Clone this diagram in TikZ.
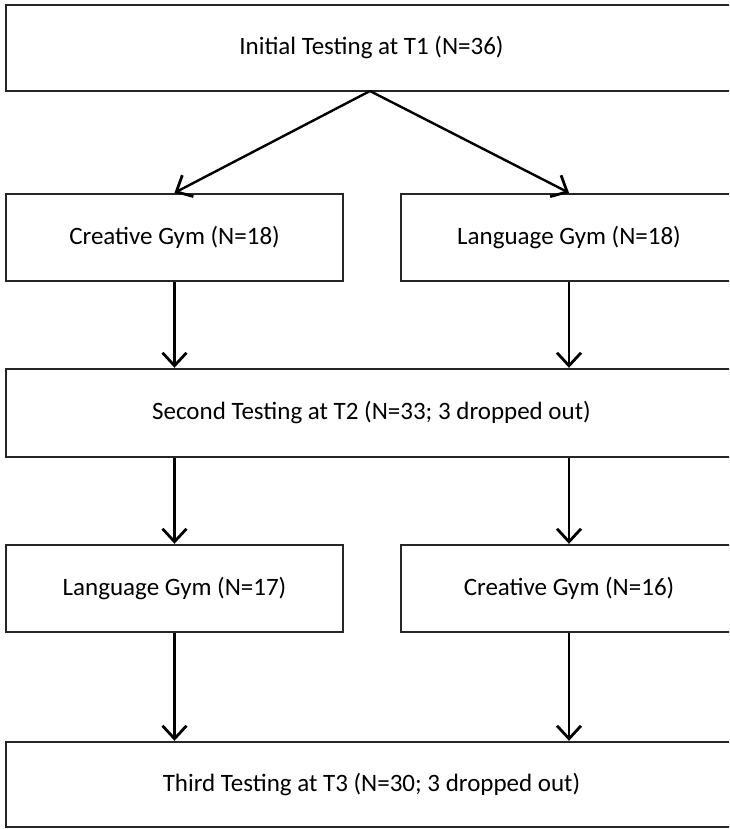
\documentclass[tikz,border=0pt]{standalone}
\usepackage{fontspec}
\setmainfont{Carlito}
\usetikzlibrary{arrows.meta}
\begin{document}
\begin{tikzpicture}[x=1pt,y=-1pt,
  box/.style={draw=black!85, line width=2.4pt, rectangle, inner sep=0pt, font=\fontsize{25}{29}\selectfont},
  arr/.style={draw=black, line width=2.4pt, -{Straight Barb[length=13pt,width=24pt,line width=2.8pt]}}]
\useasboundingbox (0,0) rectangle (729,829);
\clip (0,0) rectangle (729,829);
\node[box, minimum width=731pt, minimum height=86pt] (t1) at (371.5,48) {Initial Testing at T1 (N=36)};
\node[box, minimum width=337pt, minimum height=87pt] (cg1) at (174.5,237.5) {Creative Gym (N=18)};
\node[box, minimum width=336pt, minimum height=87pt] (lg1) at (569,237.5) {Language Gym (N=18)};
\node[box, minimum width=731pt, minimum height=88pt] (t2) at (371.5,413) {Second Testing at T2 (N=33; 3 dropped out)};
\node[box, minimum width=337pt, minimum height=87pt] (lg2) at (174.5,588.5) {Language Gym (N=17)};
\node[box, minimum width=336pt, minimum height=87pt] (cg2) at (569,588.5) {Creative Gym (N=16)};
\node[box, minimum width=731pt, minimum height=85pt] (t3) at (371.5,784.5) {Third Testing at T3 (N=30; 3 dropped out)};
\coordinate (apex) at (370,91);
\draw[arr] (apex) -- (cg1.north);
\draw[arr] (apex) -- (lg1.north);
\draw[arr] (cg1.south) -- (cg1.south |- t2.north);
\draw[arr] (lg1.south) -- (lg1.south |- t2.north);
\draw[arr] (lg2.south |- t2.south) -- (lg2.north);
\draw[arr] (cg2.south |- t2.south) -- (cg2.north);
\draw[arr] (lg2.south) -- (lg2.south |- t3.north);
\draw[arr] (cg2.south) -- (cg2.south |- t3.north);
\end{tikzpicture}
\end{document}
